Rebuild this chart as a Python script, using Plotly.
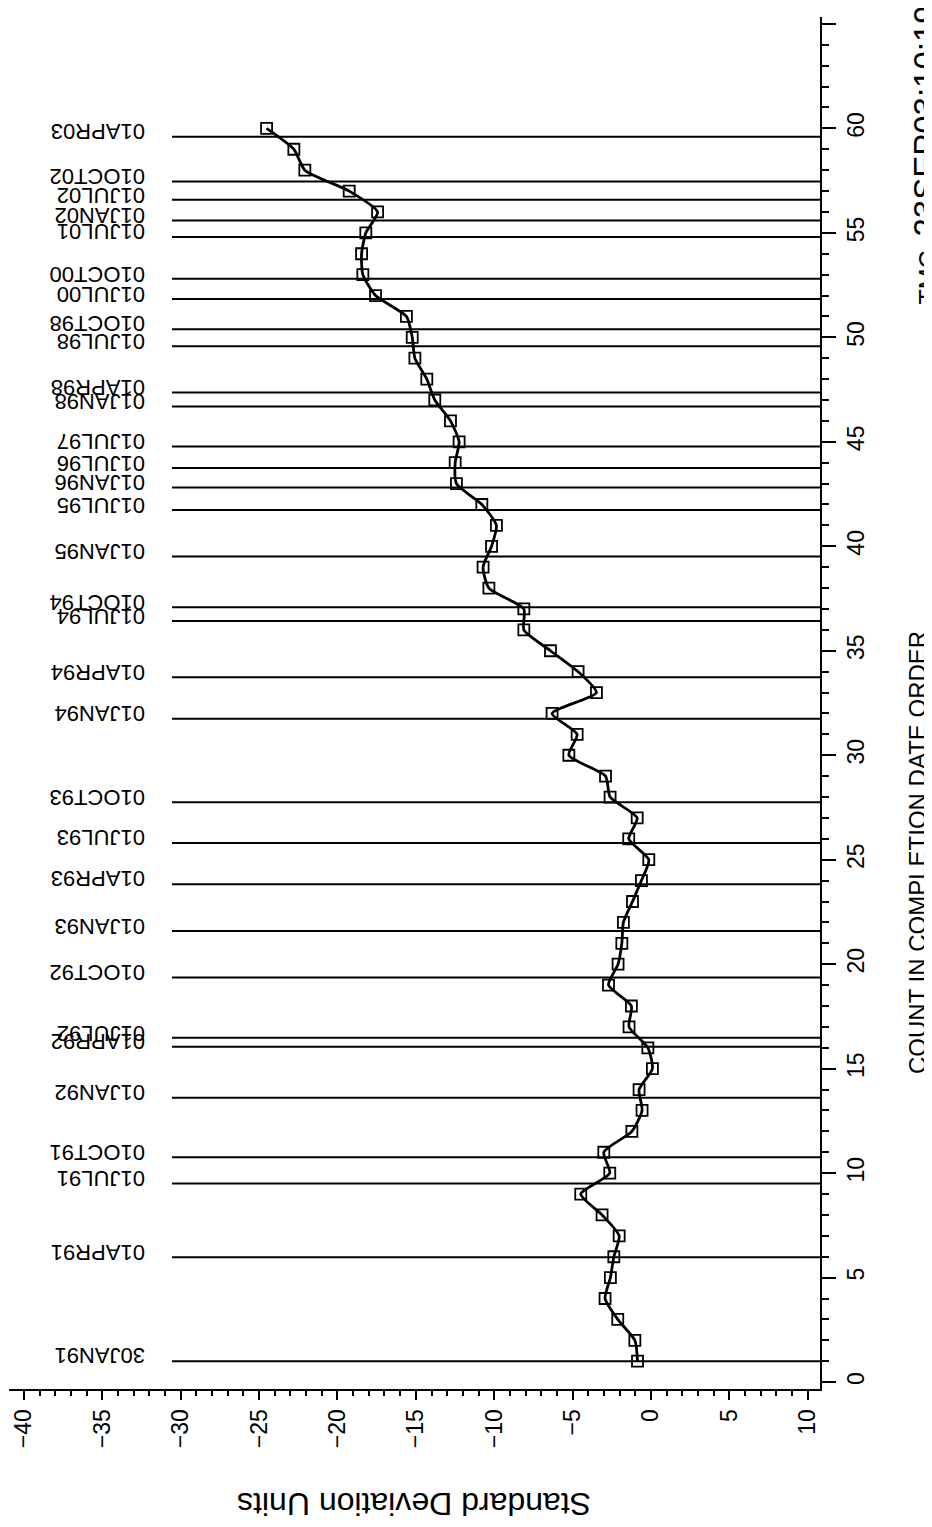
import plotly.graph_objects as go

# ---- data ----
counts = list(range(1, 61))
sd_units = [-0.86, -1.03, -2.12, -2.93, -2.59, -2.37, -2.03, -3.12, -4.48, -2.63,
            -3.01, -1.22, -0.57, -0.76, 0.09, -0.20, -1.40, -1.25, -2.71, -2.10,
            -1.86, -1.76, -1.18, -0.61, -0.14, -1.42, -0.88, -2.61, -2.90, -5.24,
            -4.71, -6.31, -3.48, -4.65, -6.41, -8.11, -8.11, -10.34, -10.71, -10.17,
            -9.86, -10.79, -12.41, -12.49, -12.24, -12.79, -13.79, -14.30, -15.06, -15.23,
            -15.60, -17.57, -18.38, -18.46, -18.19, -17.44, -19.25, -22.08, -22.78, -24.52]

date_labels = ["30JAN91", "01APR91", "01JUL91", "01OCT91", "01JAN92", "01APR92",
               "01JUL92", "01OCT92", "01JAN93", "01APR93", "01JUL93", "01OCT93",
               "01JAN94", "01APR94", "01JUL94", "01OCT94", "01JAN95", "01JUL95",
               "01JAN96", "01JUL96", "01JUL97", "01JAN98", "01APR98", "01JUL98",
               "01OCT98", "01JUL00", "01OCT00", "01JUL01", "01JAN02", "01JUL02",
               "01OCT02", "01APR03"]
date_pos = [1.0, 5.97, 9.51, 10.76, 13.61, 16.05, 16.48, 19.36, 21.59, 23.83,
            25.80, 27.75, 31.75, 33.73, 36.43, 37.08, 39.51, 41.74, 42.81, 43.75,
            44.77, 46.69, 47.36, 49.57, 50.39, 51.84, 52.80, 54.80, 55.59, 56.58,
            57.46, 59.60]

x_ticks = list(range(-40, 11, 5))
y_ticks = list(range(0, 66, 5))

x_title = "Standard Deviation Units"
y_title = "COUNT IN COMPLETION DATE ORDER"
stamp_id = "TMC"
stamp_time = "23SEP03:10:19"

# ---- layout constants ----
X_RANGE = [-40.95, 10.78]
Y_RANGE = [-0.33, 65.33]
LINE_START = -30.55
LABEL_RIGHT = -32.15
FONT = "Liberation Sans, Arial, sans-serif"
TICK_FONT = dict(family=FONT, size=23, color="black")

fig = go.Figure()

fig.add_trace(go.Scatter(
    x=sd_units, y=counts, mode="lines+markers",
    line=dict(color="black", width=2.8, shape="spline", smoothing=0.6),
    marker=dict(symbol="square-open", size=11, color="black",
                line=dict(color="black", width=1.8)),
    showlegend=False, hoverinfo="x+y",
))

shapes = []
annotations = []
for lab, pos in zip(date_labels, date_pos):
    shapes.append(dict(type="line", xref="x", yref="y",
                       x0=LINE_START, x1=X_RANGE[1], y0=pos, y1=pos,
                       line=dict(color="black", width=2), layer="below"))
    annotations.append(dict(x=LABEL_RIGHT, y=pos, xref="x", yref="y",
                            text=lab, showarrow=False, textangle=180,
                            xanchor="right", yanchor="middle", yshift=5,
                            font=dict(family=FONT, size=22, color="black")))

annotations.append(dict(x=0.5, y=0, xref="paper", yref="paper", text=x_title,
                        showarrow=False, textangle=180, xanchor="center",
                        yanchor="middle", yshift=-115,
                        font=dict(family=FONT, size=32, color="black")))
annotations.append(dict(x=1, y=0.3907, xref="paper", yref="paper", text=y_title,
                        showarrow=False, textangle=-90, xanchor="center",
                        yanchor="middle", xshift=98,
                        font=dict(family=FONT, size=24, color="black")))
annotations.append(dict(x=1, y=0.7886, xref="paper", yref="paper",
                        text=stamp_id + "  <span style='font-size:33px'>" + stamp_time + "</span>",
                        showarrow=False, textangle=-90, xanchor="center",
                        yanchor="bottom", xshift=106,
                        font=dict(family=FONT, size=25, color="black")))

fig.update_layout(
    width=924, height=1519,
    margin=dict(l=1, r=112, t=9, b=138),
    paper_bgcolor="white", plot_bgcolor="white",
    shapes=shapes, annotations=annotations,
    xaxis=dict(range=X_RANGE, tickmode="array", tickvals=x_ticks,
               ticks="outside", ticklen=9, tickwidth=2, tickcolor="black",
               tickangle=-90, tickfont=TICK_FONT, automargin=False,
               showline=True, linewidth=2, linecolor="black",
               showgrid=False, zeroline=False,
               minor=dict(dtick=1, ticks="outside", ticklen=5, tickwidth=2,
                          tickcolor="black", showgrid=False)),
    yaxis=dict(range=Y_RANGE, side="right", tickmode="array", tickvals=y_ticks,
               ticks="outside", ticklen=14, tickwidth=2, tickcolor="black",
               tickangle=-90, tickfont=TICK_FONT, automargin=False,
               showline=True, linewidth=2, linecolor="black",
               showgrid=False, zeroline=False,
               minor=dict(dtick=1, ticks="outside", ticklen=7, tickwidth=2,
                          tickcolor="black", showgrid=False)),
)

fig.write_html("out.html")
